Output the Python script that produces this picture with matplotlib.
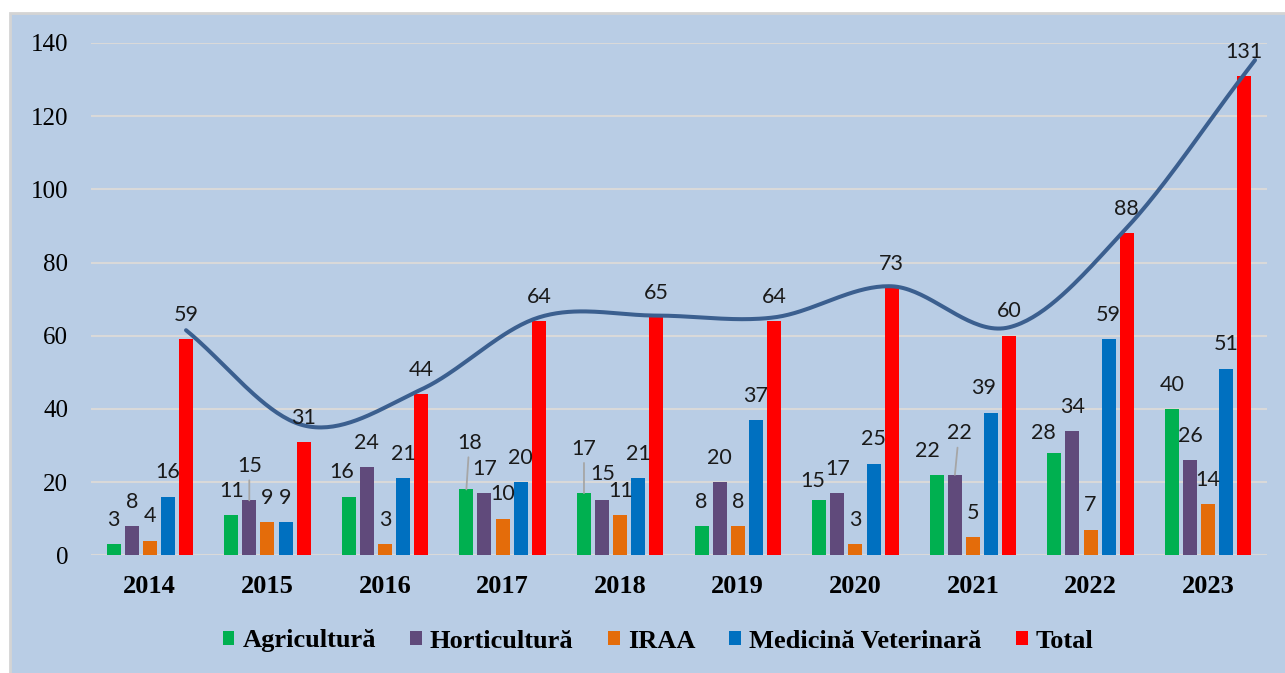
import numpy as np
import matplotlib
matplotlib.use('Agg')
import matplotlib.pyplot as plt
from matplotlib.patches import Rectangle, Patch


YEARS = ['2014', '2015', '2016', '2017', '2018', '2019', '2020', '2021', '2022', '2023']
SERIES = ['Agricultură', 'Horticultură', 'IRAA', 'Medicină Veterinară', 'Total']

AGRICULTURA = [3, 11, 16, 18, 17, 8, 15, 22, 28, 40]
HORTICULTURA = [8, 15, 24, 17, 15, 20, 17, 22, 34, 26]
IRAA = [4, 9, 3, 10, 11, 8, 3, 5, 7, 14]
MEDVET = [16, 9, 21, 20, 21, 37, 25, 39, 59, 51]
TOTAL = [59, 31, 44, 64, 65, 64, 73, 60, 88, 131]

# the hand-drawn curve over the Total bars
CURVE = [61.5, 35.5, 45.3, 65.0, 65.5, 65.0, 73.5, 62.3, 89.5, 131.5]

COLORS = ['#00B050', '#604A7B', '#E46C0A', '#0070C0', '#FF0000']

# label nudges in pixels (series, year index) -> (dx, dy, leader line)
NUDGE = {
    (1, 1): (0, 10, True),
    (0, 2): (-7, 0, False),
    (0, 3): (3, 22, True),
    (0, 4): (0, 20, True),
    (1, 4): (1, 2, False),
    (0, 6): (-6, -5, False),
    (0, 7): (-9, -1, False),
    (1, 7): (4, 17, True),
    (3, 7): (-8, 0, False),
    (0, 8): (-11, -4, False),
}


def smooth(xs, ys, n=40):
    # Catmull-Rom style cubic Hermite through the points
    xs = np.asarray(xs, float)
    ys = np.asarray(ys, float)
    m = np.zeros_like(ys)
    m[1:-1] = (ys[2:] - ys[:-2]) / (xs[2:] - xs[:-2])
    m[0] = (ys[1] - ys[0]) / (xs[1] - xs[0])
    m[-1] = (ys[-1] - ys[-2]) / (xs[-1] - xs[-2])
    px, py = [], []
    for i in range(len(xs) - 1):
        h = xs[i + 1] - xs[i]
        t = np.linspace(0, 1, n, endpoint=False)
        h00 = 2 * t**3 - 3 * t**2 + 1
        h10 = t**3 - 2 * t**2 + t
        h01 = -2 * t**3 + 3 * t**2
        h11 = t**3 - t**2
        px.extend(xs[i] + t * h)
        py.extend(h00 * ys[i] + h10 * h * m[i] + h01 * ys[i + 1] + h11 * h * m[i + 1])
    # a short run past the last point, as in the picture
    ext = np.linspace(0, 0.09, 6)
    px.extend(xs[-1] + ext)
    py.extend(ys[-1] + m[-1] * ext)
    return np.array(px), np.array(py)


W, H = 1285, 673
fig = plt.figure(figsize=(W / 100, H / 100), dpi=100)
fig.patch.set_facecolor('white')
panel = Rectangle((10 / W, -0.1), 1.2, (H - 13) / H + 0.1, transform=fig.transFigure,
                  facecolor='#B9CDE5', edgecolor='#D4D4D4', linewidth=2, zorder=-10)
fig.patches.append(panel)

ax = fig.add_axes([91 / W, (H - 555.3) / H, (1267 - 91) / W, (555.3 - 42.9) / H])
ax.set_facecolor('none')
ax.set_zorder(1)

data = [AGRICULTURA, HORTICULTURA, IRAA, MEDVET, TOTAL]
x = np.arange(len(YEARS))
pitch = 0.154
width = 0.119

for i, vals in enumerate(data):
    xs = x + (i - 2) * pitch
    ax.bar(xs, vals, width=width, color=COLORS[i], zorder=3)
    for j, v in enumerate(vals):
        dx, dy, leader = NUDGE.get((i, j), (0, 0, False))
        kw = {}
        if leader:
            kw['arrowprops'] = dict(arrowstyle='-', color='#A6A6A6', lw=1.3, shrinkA=1, shrinkB=0)
        ax.annotate(str(v), xy=(xs[j], v), xytext=(dx, 18.3 + dy), textcoords='offset pixels',
                    ha='center', va='baseline', fontsize=15.5, family='Lato', color='#1a1a1a',
                    zorder=5, annotation_clip=False, **kw)

cx, cy = smooth(x + 2 * pitch, CURVE)
ax.plot(cx, cy, color='#3B5F8F', lw=2.9, solid_capstyle='round', zorder=4, clip_on=False)

ax.set_xlim(-0.5, len(YEARS) - 0.5)
ax.set_ylim(0, 140)
ax.set_yticks(range(0, 141, 20))
ax.set_xticks(x)
ax.set_xticklabels(YEARS, fontsize=19, family='Liberation Serif', fontweight='bold')
for lab in ax.get_yticklabels():
    lab.set_family('Liberation Serif')
    lab.set_fontsize(18)
ax.tick_params(axis='y', length=0, pad=16.5)
ax.tick_params(axis='x', length=0, pad=14)
ax.grid(axis='y', color='#D9D9D9', lw=1.5, zorder=1)
ax.set_axisbelow(True)
for s in ax.spines.values():
    s.set_visible(False)

handles = [Patch(facecolor=c, edgecolor='none') for c in COLORS]
fig.legend(handles, SERIES, loc='center', bbox_to_anchor=(658 / W, (H - 641) / H), ncol=5,
           frameon=False, prop={'family': 'Liberation Serif', 'weight': 'bold', 'size': 19},
           handlelength=0.45, handleheight=0.45, handletextpad=0.3, columnspacing=1.3)

fig.savefig('out.png', dpi=100)
